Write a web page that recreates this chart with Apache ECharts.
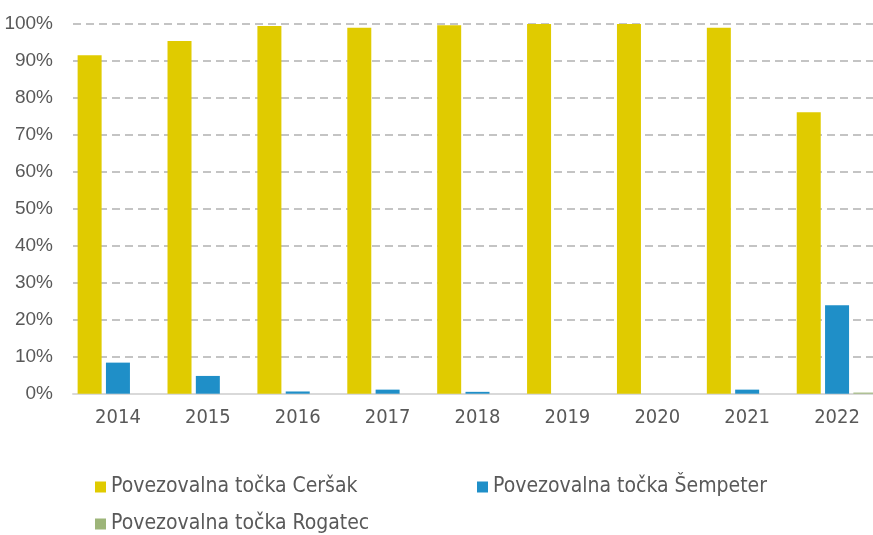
<!DOCTYPE html>
<html>
<head>
<meta charset="utf-8">
<script src="https://cdn.jsdelivr.net/npm/echarts@6/dist/echarts.min.js"></script>
<style>
  html, body { margin: 0; padding: 0; background: #fff; overflow: hidden; }
  /* plot runs a little past the right edge, as in the original crop */
  #chart { width: 882px; height: 535px; }
</style>
</head>
<body>
<div id="chart"></div>
<script>
// leta
var years = ['2014', '2015', '2016', '2017', '2018', '2019', '2020', '2021', '2022'];
// delez po povezovalnih tockah (%)
var cersak   = [91.5, 95.3, 99.4, 98.9, 99.6, 99.9, 99.9, 98.9, 76.1];
var sempeter = [8.4, 4.8, 0.6, 1.1, 0.5, 0, 0, 1.1, 23.9];
var rogatec  = [0, 0, 0, 0, 0, 0, 0, 0, 0.3];
var seriesNames = ['Povezovalna točka Ceršak', 'Povezovalna točka Šempeter', 'Povezovalna točka Rogatec'];
var colors = ['#E0CB00', '#1F8FC8', '#9DB579'];

var chart = echarts.init(document.getElementById('chart'));

var legendFont = {
    fontFamily: 'DejaVu Sans Condensed, DejaVu Sans',
    fontSize: 21,
    color: '#595959',
    lineHeight: 24
};

function legendAt(name, left, top) {
    return {
        data: [name],
        left: left,
        top: top,
        itemWidth: 11,
        itemHeight: 11,
        itemGap: 0,
        padding: 0,
        icon: 'rect',
        selectedMode: false,
        textStyle: legendFont
    };
}

function bar(name, data, color) {
    return {
        name: name,
        type: 'bar',
        data: data,
        barWidth: 24,
        barGap: '18%',
        itemStyle: { color: color }
    };
}

chart.setOption({
    animation: false,
    grid: { left: 73, right: 0, top: 23.7, bottom: 141.3, containLabel: false },
    xAxis: {
        type: 'category',
        data: years,
        axisTick: { show: false },
        axisLine: { lineStyle: { color: '#D9D9D9', width: 2 } },
        axisLabel: {
            margin: 14,
            fontFamily: 'DejaVu Sans Condensed, DejaVu Sans',
            fontSize: 20,
            color: '#595959'
        }
    },
    yAxis: {
        type: 'value',
        min: 0,
        max: 100,
        interval: 10,
        axisLine: { show: false },
        axisTick: { show: false },
        axisLabel: {
            margin: 20,
            formatter: '{value}%',
            fontFamily: 'Liberation Sans',
            fontSize: 19,
            color: '#595959'
        },
        splitLine: {
            lineStyle: { color: '#C4C4C4', width: 2, type: [8, 5] }
        }
    },
    legend: [
        legendAt(seriesNames[0], 95, 475),
        legendAt(seriesNames[1], 477, 475),
        legendAt(seriesNames[2], 95, 512)
    ],
    series: [
        bar(seriesNames[0], cersak, colors[0]),
        bar(seriesNames[1], sempeter, colors[1]),
        bar(seriesNames[2], rogatec, colors[2])
    ]
});
</script>
</body>
</html>
